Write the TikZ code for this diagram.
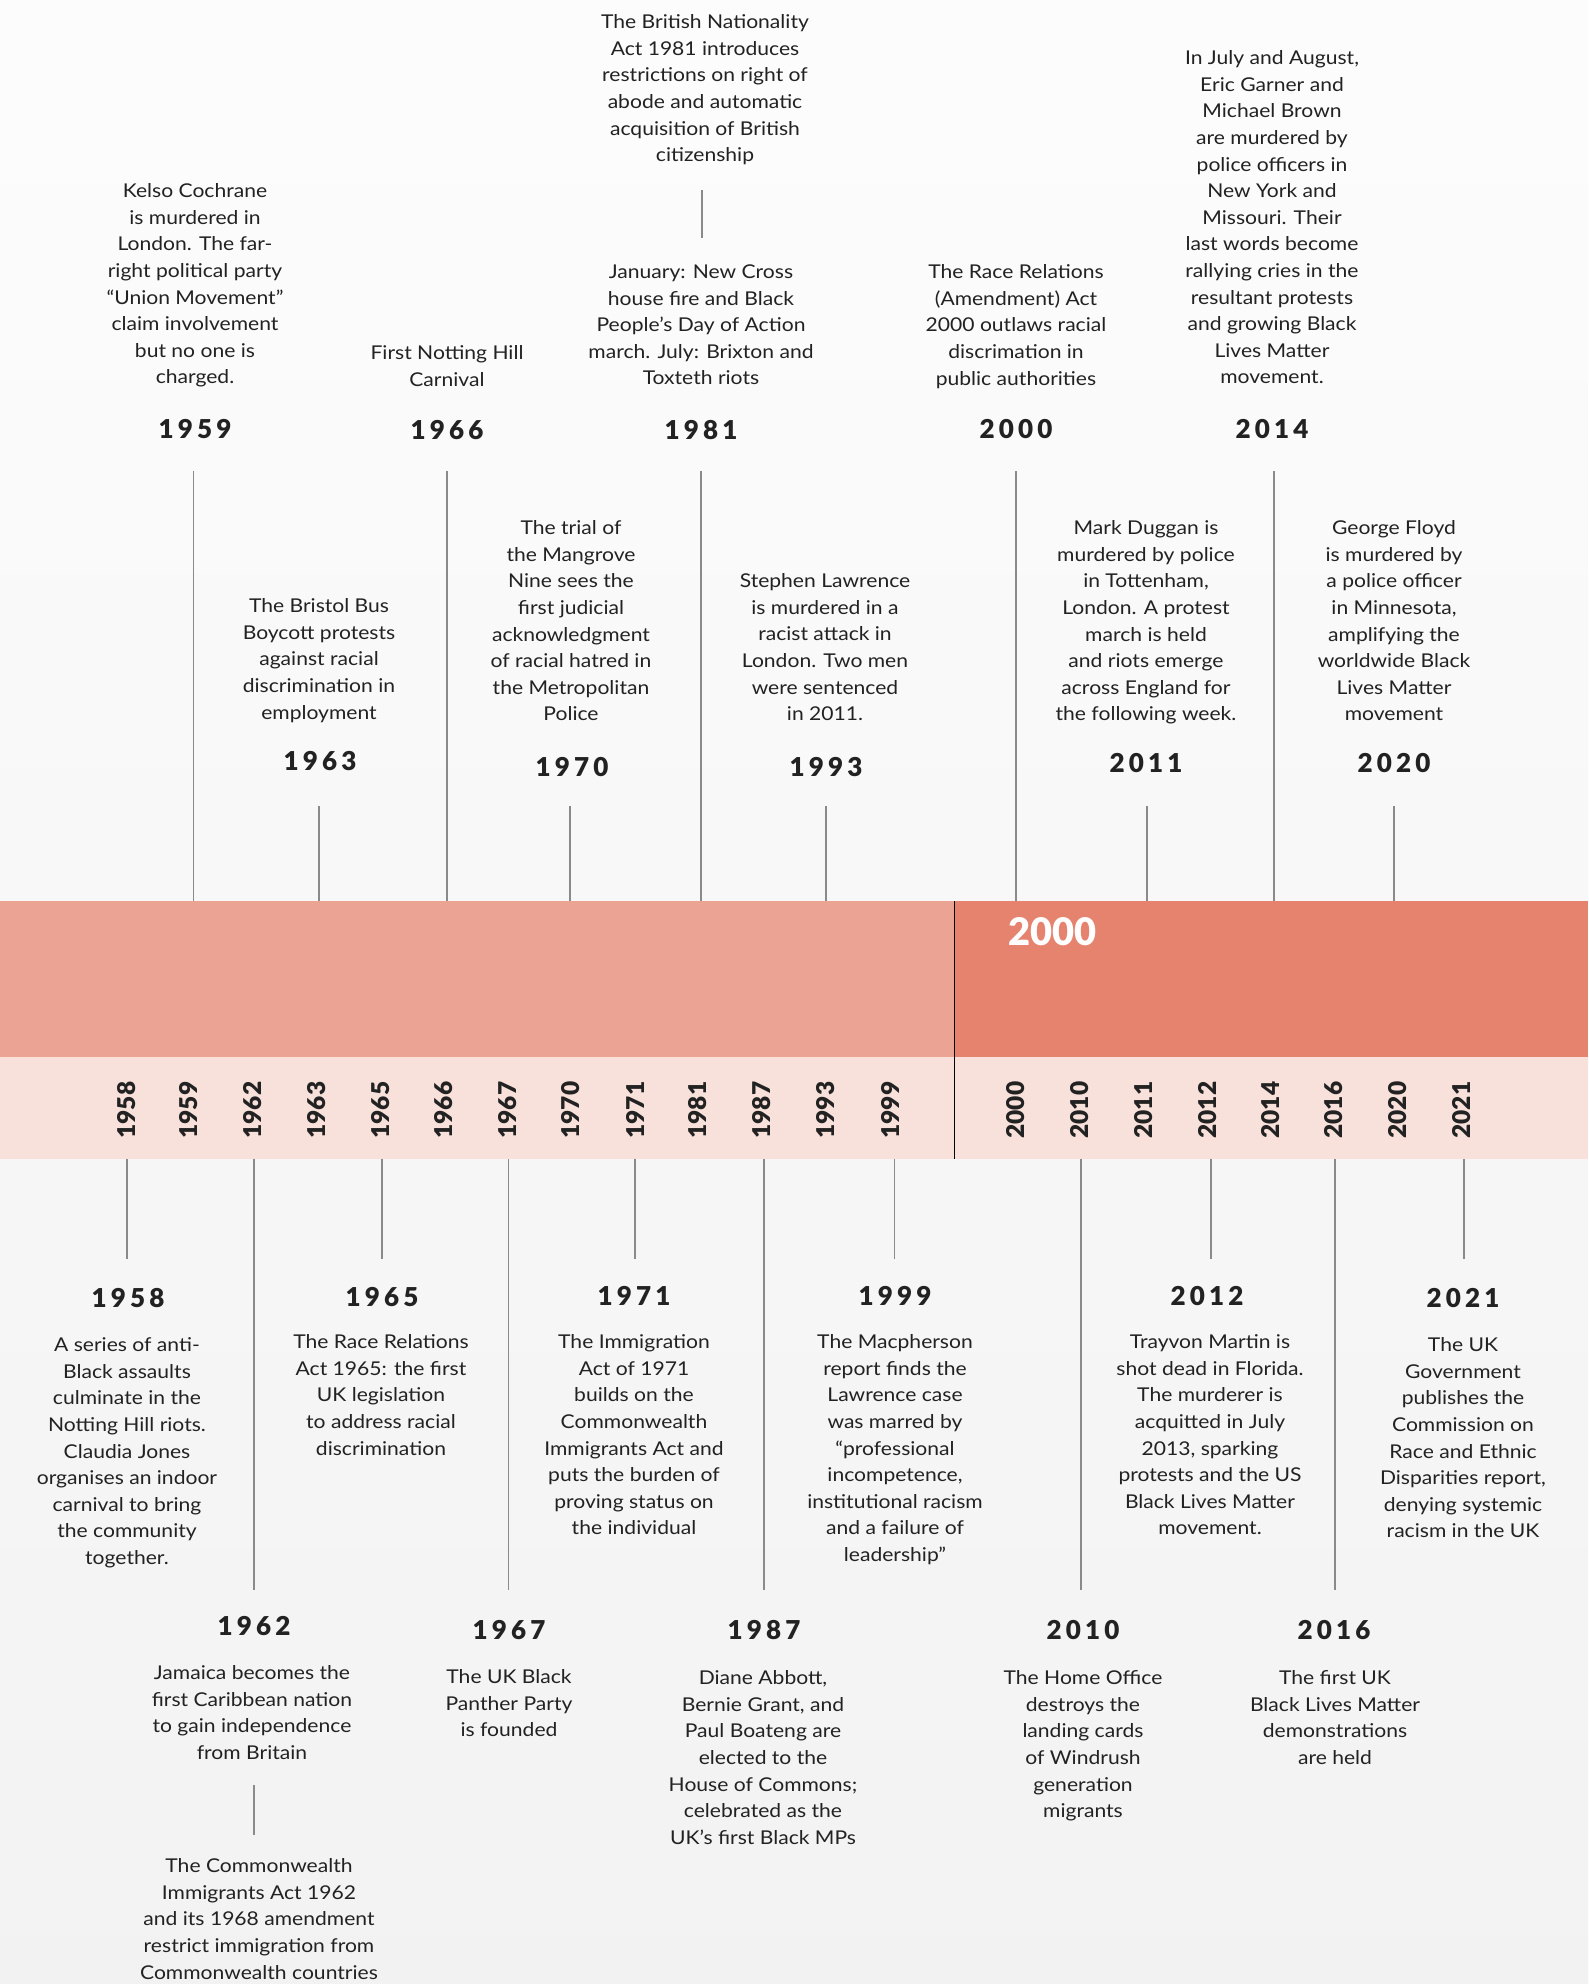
\documentclass[tikz,border=0pt]{standalone}
\usepackage{fontspec}
\setmainfont{Lato}[FakeStretch=1.11]
\newfontfamily\yearfam[LetterSpace=16]{Lato Black}
\newfontfamily\bandfam{Lato Black}
\definecolor{ink}{HTML}{222222}
\definecolor{stemc}{HTML}{8A8A8A}
\definecolor{bandL}{HTML}{EBA494}
\definecolor{bandR}{HTML}{E5836F}
\definecolor{bandP}{HTML}{F9E1DB}
\newcommand\descfont{\fontsize{19}{26.6}\selectfont}
\newcommand\yrfont{\yearfam\fontsize{26}{30}\selectfont}
\newcommand\bdfont{\bandfam\fontsize{24.5}{28}\selectfont}
\newcommand\tlstem[4]{\coordinate (#1a) at (#2,#3); \coordinate (#1b) at (#2,#4); \draw[stem] (#1a) -- (#1b);}
\tikzset{
 desc/.style={font=\descfont, align=center, anchor=north, inner sep=0pt, text=ink},
 yr/.style={font=\yrfont, text=ink, inner sep=0pt},
 bandlab/.style={font=\bdfont, rotate=90, text=ink, inner sep=0pt},
 stem/.style={draw=stemc, line width=1.4pt},
}
\begin{document}
\begin{tikzpicture}[x=1pt,y=-1pt]
\useasboundingbox (0,0) rectangle (1588,1984);
\shade[top color=white!99!black, bottom color=white!95!black] (0,0) rectangle (1588,1984);
% bands
\fill[bandL] (0,901) rectangle (954,1057);
\fill[bandR] (954,901) rectangle (1588,1057);
\fill[bandP] (0,1057) rectangle (1588,1159);
\coordinate (divA) at (954,901); \coordinate (divB) at (954,1159);
\draw[black, line width=1pt] (divA) -- (divB);
\node[font=\bandfam\fontsize{38}{42}\selectfont, text=white, anchor=west, inner sep=0pt] (era) at (1008,932) {2000};
% band labels
\foreach \yy/\xx in {1958/127,1959/189,1962/253,1963/317,1965/381,1966/444,1967/508,1970/571,1971/635,1981/698,1987/762,1993/826,1999/890,2000/1016,2010/1080,2011/1144,2012/1208,2014/1271,2016/1334,2020/1398,2021/1462}
  \node[bandlab] (b\yy) at (\xx,1110) {\yy};
% ---------- top stems ----------
\tlstem{t59}{193.5}{471}{901}
\tlstem{t66}{447}{471}{901}
\tlstem{t81}{701}{471}{901}
\tlstem{t00}{1016}{471}{901}
\tlstem{t14}{1274}{471}{901}
\tlstem{t63}{319}{806}{901}
\tlstem{t70}{570}{806}{901}
\tlstem{t93}{826}{806}{901}
\tlstem{t11}{1147}{806}{901}
\tlstem{t20}{1394}{806}{901}
\tlstem{t81s}{702}{190}{238}
% ---------- bottom stems ----------
\tlstem{u58}{127}{1159}{1259}
\tlstem{u65}{382}{1159}{1259}
\tlstem{u71}{635}{1159}{1259}
\tlstem{u99}{894.6}{1159}{1259}
\tlstem{u12}{1211}{1159}{1259}
\tlstem{u21}{1464}{1159}{1259}
\tlstem{u62}{254}{1159}{1590}
\tlstem{u67}{508.6}{1159}{1590}
\tlstem{u87}{764}{1159}{1590}
\tlstem{u10}{1081}{1159}{1590}
\tlstem{u16}{1335}{1159}{1590}
\tlstem{u62s}{254}{1785}{1835}
% ---------- top years ----------
\node[yr] (y1959) at (195,429) {1959};
\node[yr] (y1966) at (447,430) {1966};
\node[yr] (y1981) at (701,430) {1981};
\node[yr] (y2000) at (1016,429) {2000};
\node[yr] (y2014) at (1272,429) {2014};
\node[yr] (y1963) at (320,761) {1963};
\node[yr] (y1970) at (572,767) {1970};
\node[yr] (y1993) at (826,767) {1993};
\node[yr] (y2011) at (1146,763) {2011};
\node[yr] (y2020) at (1394,763) {2020};
% ---------- bottom years ----------
\node[yr] (y1958) at (128,1298) {1958};
\node[yr] (y1965) at (382,1297) {1965};
\node[yr] (y1971) at (634,1296) {1971};
\node[yr] (y1999) at (895,1296) {1999};
\node[yr] (y2012) at (1207,1296) {2012};
\node[yr] (y2021) at (1463,1298) {2021};
\node[yr] (y1962) at (254,1626) {1962};
\node[yr] (y1967) at (509,1630) {1967};
\node[yr] (y1987) at (764,1630) {1987};
\node[yr] (y2010) at (1083,1630) {2010};
\node[yr] (y2016) at (1334,1630) {2016};
% ---------- top texts ----------
\node[desc] (d1959) at (195,183.5) {Kelso Cochrane\\is murdered in\\London. The far-\\right political party\\“Union Movement”\\claim involvement\\but no one is\\charged.};
\node[desc] (d1966) at (447,345.5) {First Notting Hill\\Carnival};
\node[desc] (d1981a) at (705,14.5) {The British Nationality\\Act 1981 introduces\\restrictions on right of\\abode and automatic\\acquisition of British\\citizenship};
\node[desc] (d1981) at (701,264.5) {January: New Cross\\house fire and Black\\People’s Day of Action\\march. July: Brixton and\\Toxteth riots};
\node[desc] (d2000) at (1016,264.5) {The Race Relations\\(Amendment) Act\\2000 outlaws racial\\discrimation in\\public authorities};
\node[desc] (d2014) at (1272,50.5) {In July and August,\\Eric Garner and\\Michael Brown\\are murdered by\\police officers in\\New York and\\Missouri. Their\\last words become\\rallying cries in the\\resultant protests\\and growing Black\\Lives Matter\\movement.};
\node[desc] (d1963) at (319,598.5) {The Bristol Bus\\Boycott protests\\against racial\\discrimination in\\employment};
\node[desc] (d1970) at (571,520.5) {The trial of\\the Mangrove\\Nine sees the\\first judicial\\acknowledgment\\of racial hatred in\\the Metropolitan\\Police};
\node[desc] (d1993) at (825,573.5) {Stephen Lawrence\\is murdered in a\\racist attack in\\London. Two men\\were sentenced\\in 2011.};
\node[desc] (d2011) at (1146,520.5) {Mark Duggan is\\murdered by police\\in Tottenham,\\London. A protest\\march is held\\and riots emerge\\across England for\\the following week.};
\node[desc] (d2020) at (1394,520.5) {George Floyd\\is murdered by\\a police officer\\in Minnesota,\\amplifying the\\worldwide Black\\Lives Matter\\movement};
% ---------- bottom texts ----------
\node[desc] (d1958) at (127,1337.5) {A series of anti-\\Black assaults\\culminate in the\\Notting Hill riots.\\Claudia Jones\\organises an indoor\\carnival to bring\\the community\\together.};
\node[desc] (d1965) at (381,1334.5) {The Race Relations\\Act 1965: the first\\UK legislation\\to address racial\\discrimination};
\node[desc] (d1971) at (634,1334.5) {The Immigration\\Act of 1971\\builds on the\\Commonwealth\\Immigrants Act and\\puts the burden of\\proving status on\\the individual};
\node[desc] (d1999) at (895,1334.5) {The Macpherson\\report finds the\\Lawrence case\\was marred by\\“professional\\incompetence,\\institutional racism\\and a failure of\\leadership”};
\node[desc] (d2012) at (1210,1334.5) {Trayvon Martin is\\shot dead in Florida.\\The murderer is\\acquitted in July\\2013, sparking\\protests and the US\\Black Lives Matter\\movement.};
\node[desc] (d2021) at (1463,1337.5) {The UK\\Government\\publishes the\\Commission on\\Race and Ethnic\\Disparities report,\\denying systemic\\racism in the UK};
\node[desc] (d1962) at (252,1665.5) {Jamaica becomes the\\first Caribbean nation\\to gain independence\\from Britain};
\node[desc] (d1962b) at (259,1858.5) {The Commonwealth\\Immigrants Act 1962\\and its 1968 amendment\\restrict immigration from\\Commonwealth countries};
\node[desc] (d1967) at (509,1669.5) {The UK Black\\Panther Party\\is founded};
\node[desc] (d1987) at (763,1670.5) {Diane Abbott,\\Bernie Grant, and\\Paul Boateng are\\elected to the\\House of Commons;\\celebrated as the\\UK’s first Black MPs};
\node[desc] (d2010) at (1083,1670.5) {The Home Office\\destroys the\\landing cards\\of Windrush\\generation\\migrants};
\node[desc] (d2016) at (1335,1670.5) {The first UK\\Black Lives Matter\\demonstrations\\are held};
\end{tikzpicture}
\end{document}
